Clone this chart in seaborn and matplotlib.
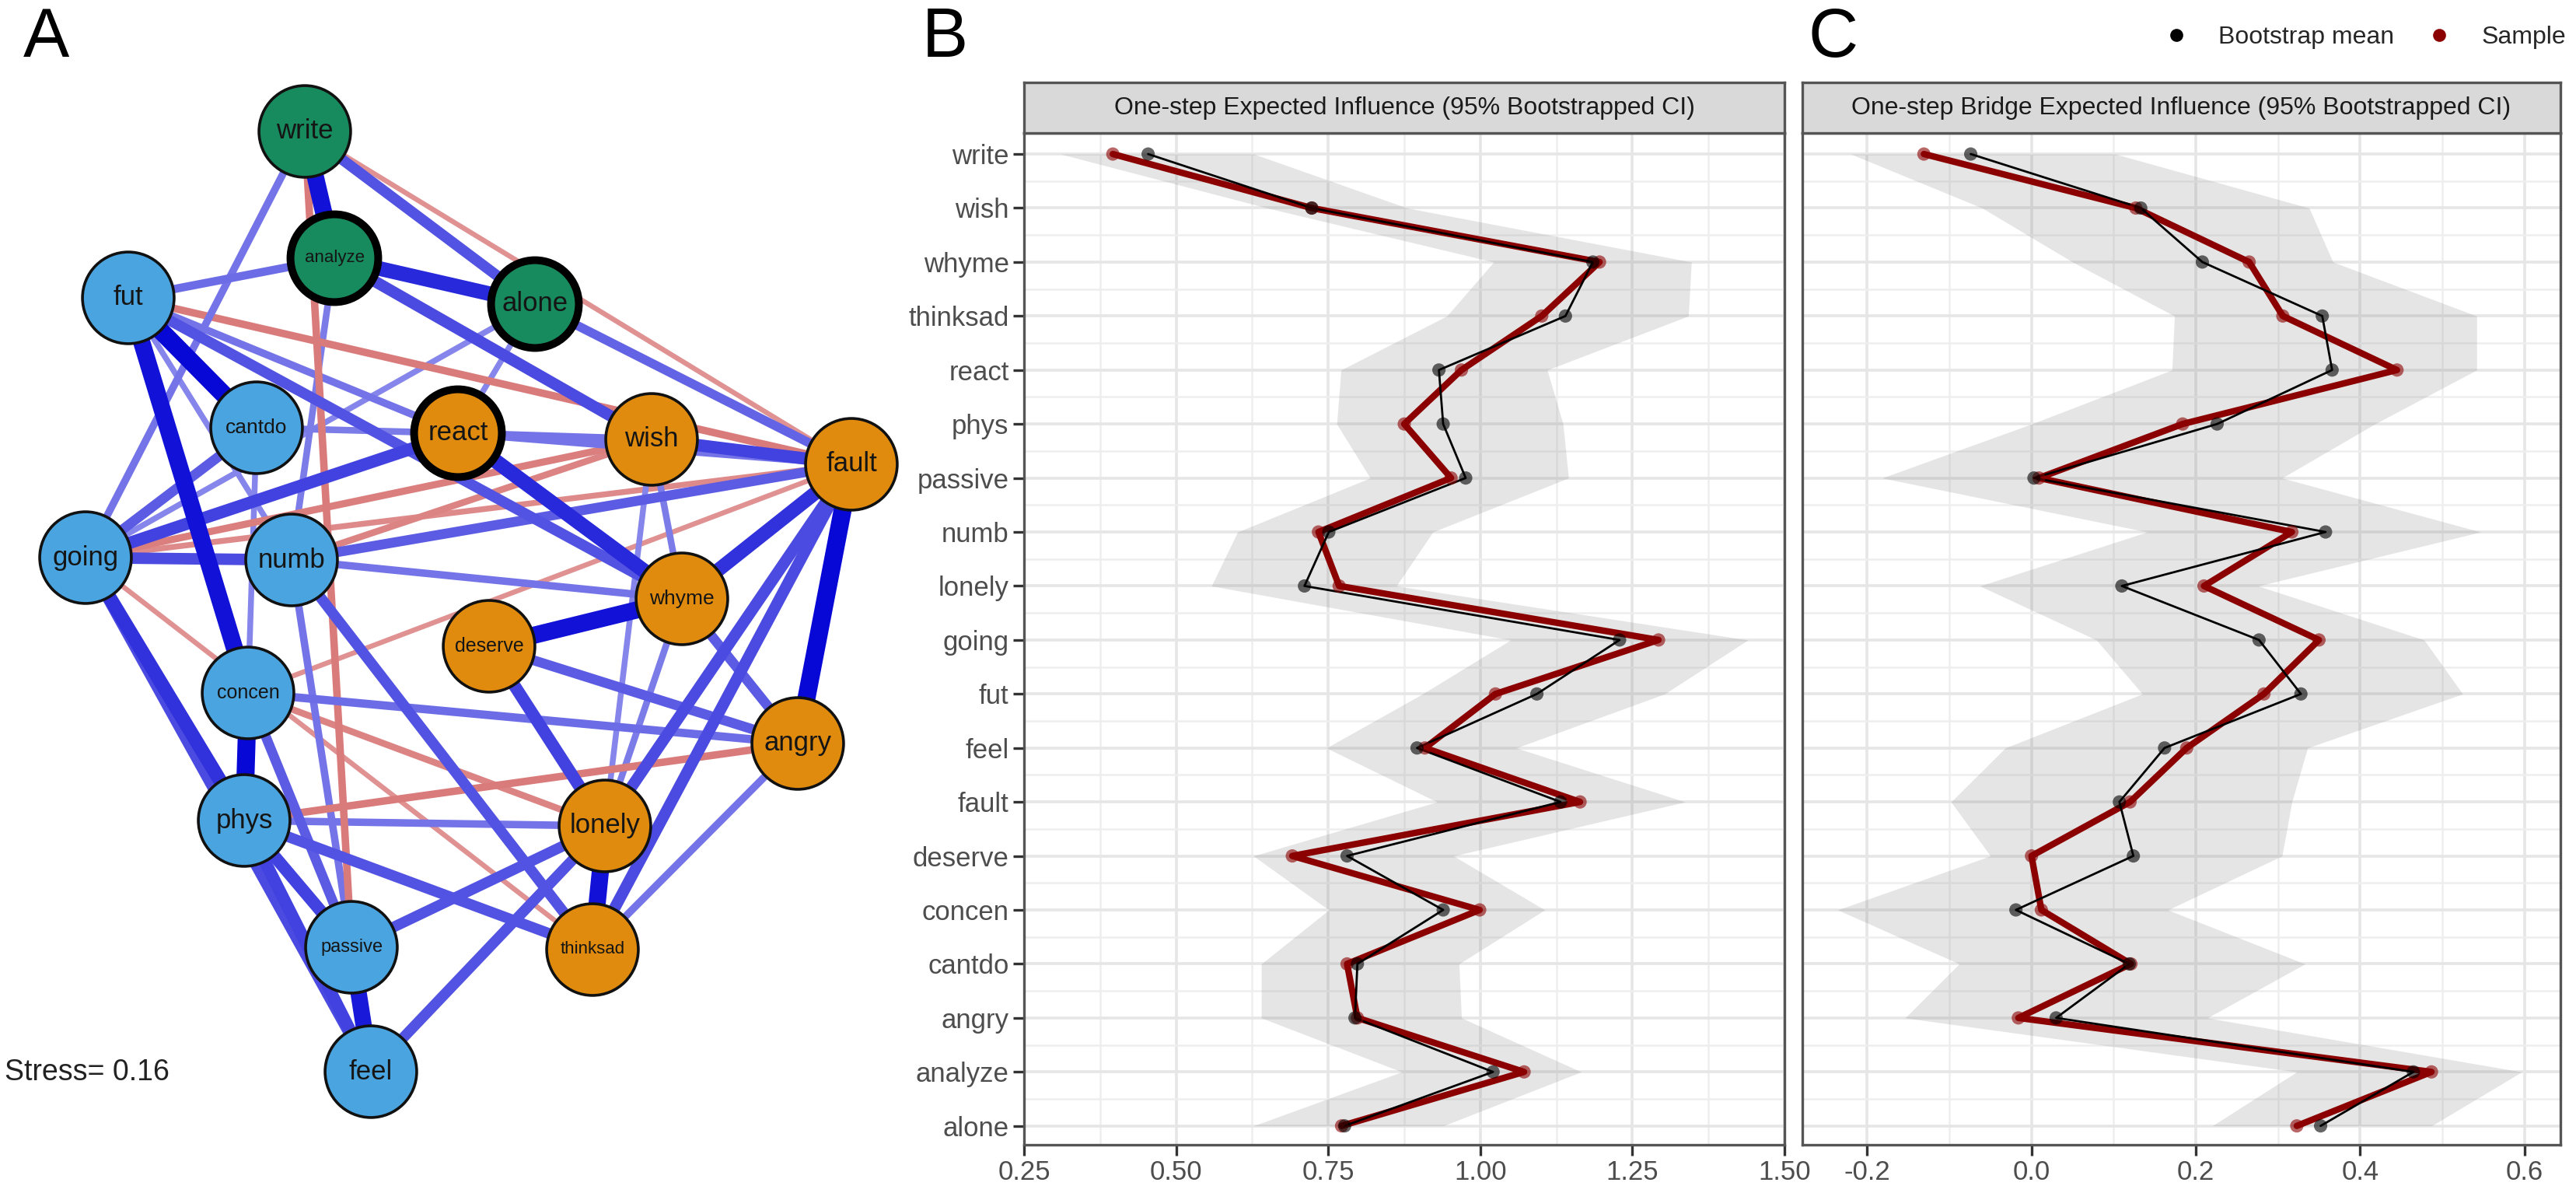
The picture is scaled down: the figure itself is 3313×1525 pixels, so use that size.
import numpy as np
import pandas as pd
import matplotlib
matplotlib.use('Agg')
import matplotlib.pyplot as plt
from matplotlib.lines import Line2D
from matplotlib.colors import to_rgb
import seaborn as sns

sns.set_theme(style='white')
plt.rcParams['font.family'] = ['Liberation Sans', 'DejaVu Sans']

# ---- centrality estimates (alphabetical, 'alone' sits at the bottom) ----
nodes = ['alone', 'analyze', 'angry', 'cantdo', 'concen', 'deserve', 'fault',
         'feel', 'fut', 'going', 'lonely', 'numb', 'passive', 'phys', 'react',
         'thinksad', 'whyme', 'wish', 'write']

ei_sample = [0.772, 1.072, 0.798, 0.781, 0.999, 0.691, 1.164, 0.909, 1.025, 1.293,
             0.768, 0.734, 0.952, 0.875, 0.969, 1.101, 1.196, 0.723, 0.396]
ei_boot = [0.777, 1.021, 0.794, 0.798, 0.939, 0.781, 1.132, 0.896, 1.093, 1.229,
           0.711, 0.751, 0.976, 0.939, 0.932, 1.140, 1.185, 0.723, 0.454]
ei_low = [0.627, 0.871, 0.640, 0.640, 0.751, 0.627, 0.929, 0.747, 0.905, 1.050,
          0.558, 0.601, 0.819, 0.764, 0.771, 0.945, 1.022, 0.650, 0.310]
ei_high = [0.939, 1.166, 0.969, 0.965, 1.106, 0.956, 1.337, 1.059, 1.303, 1.440,
           0.862, 0.922, 1.145, 1.136, 1.110, 1.342, 1.347, 0.880, 0.628]

bei_sample = [0.323, 0.487, -0.016, 0.121, 0.012, 0.000, 0.120, 0.189, 0.283, 0.350,
              0.210, 0.317, 0.009, 0.184, 0.445, 0.306, 0.265, 0.127, -0.131]
bei_boot = [0.352, 0.465, 0.030, 0.119, -0.019, 0.124, 0.107, 0.162, 0.328, 0.277,
            0.110, 0.358, 0.003, 0.226, 0.366, 0.354, 0.208, 0.133, -0.074]
bei_low = [0.220, 0.323, -0.154, -0.088, -0.236, -0.050, -0.098, -0.032, 0.135, 0.079,
           -0.063, 0.141, -0.182, 0.000, 0.171, 0.174, 0.050, -0.060, -0.220]
bei_high = [0.487, 0.597, 0.214, 0.333, 0.166, 0.305, 0.317, 0.336, 0.525, 0.478,
            0.276, 0.547, 0.305, 0.418, 0.542, 0.542, 0.367, 0.338, 0.102]

# ---- network layout (panel pixel coordinates) ----
net_nodes = ['write', 'analyze', 'alone', 'fut', 'cantdo', 'react', 'wish', 'fault',
             'going', 'numb', 'whyme', 'deserve', 'concen', 'angry', 'phys',
             'lonely', 'passive', 'thinksad', 'feel']
net_x = [392, 430, 688, 165, 330, 589, 838, 1095, 110, 375, 877, 629, 319, 1026,
         314, 778, 452, 762, 477]
net_y = [169, 332, 391, 383, 550, 557, 565, 597, 717, 720, 770, 831, 891, 956,
         1055, 1062, 1218, 1221, 1378]
net_group = ['green', 'green', 'green', 'blue', 'blue', 'orange', 'orange', 'orange',
             'blue', 'blue', 'orange', 'orange', 'blue', 'orange', 'blue',
             'orange', 'blue', 'orange', 'blue']
label_size = [12.5, 8, 12.5, 12.5, 9.5, 12.5, 12.5, 12.5, 12.5, 12.5, 9.5, 9,
              9, 12.5, 12.5, 12.5, 8.5, 8, 12.5]
bridge_nodes = ['analyze', 'alone', 'react']

edge_from = ['write', 'write', 'write', 'write', 'write', 'analyze', 'analyze', 'analyze',
             'analyze', 'alone', 'alone', 'alone', 'fut', 'fut', 'fut', 'fut', 'fut',
             'fut', 'going', 'going', 'going', 'going', 'going', 'going', 'going',
             'going', 'cantdo', 'cantdo', 'react', 'react', 'react', 'wish', 'wish',
             'wish', 'numb', 'numb', 'numb', 'numb', 'numb', 'fault', 'fault', 'fault',
             'fault', 'fault', 'whyme', 'whyme', 'whyme', 'deserve', 'deserve', 'concen',
             'concen', 'concen', 'concen', 'angry', 'angry', 'phys', 'phys', 'phys',
             'phys', 'passive', 'passive', 'feel', 'lonely']
edge_to = ['analyze', 'alone', 'going', 'fault', 'passive', 'alone', 'fut', 'wish',
           'numb', 'fault', 'react', 'going', 'cantdo', 'concen', 'react', 'whyme', 'numb',
           'fault', 'react', 'cantdo', 'numb', 'phys', 'feel', 'wish', 'fault',
           'thinksad', 'react', 'concen', 'wish', 'whyme', 'fault', 'fault', 'whyme',
           'lonely', 'wish', 'fault', 'whyme', 'passive', 'thinksad', 'whyme', 'angry',
           'lonely', 'thinksad', 'concen', 'deserve', 'angry', 'lonely', 'angry', 'lonely',
           'angry', 'phys', 'lonely', 'passive', 'phys', 'thinksad', 'lonely', 'thinksad',
           'passive', 'feel', 'feel', 'lonely', 'lonely', 'thinksad']
edge_w = [0.9, 0.5, 0.3, -0.15, -0.3, 0.75, 0.35, 0.55, 0.25, 0.4, 0.2, 0.2, 0.95,
          0.9, 0.3, 0.5, 0.2, -0.3, 0.6, 0.45, 0.55, 0.7, 0.55, -0.28, -0.2,
          -0.15, 0.25, 0.2, 0.3, 0.75, 0.3, 0.6, 0.25, 0.2, -0.25, 0.45, 0.3, 0.3,
          0.5, 0.7, 0.95, 0.55, 0.55, -0.15, 0.9, 0.45, 0.25, 0.45, 0.6, 0.35, 0.95,
          -0.25, 0.45, -0.3, 0.3, 0.3, 0.5, 0.6, 0.6, 0.85, 0.5, 0.5, 0.9]

group_colors = {'green': '#178B5E', 'blue': '#49A4E0', 'orange': '#E08B0D'}

W, H, DPI = 3313, 1525, 200
fig = plt.figure(figsize=(W / DPI, H / DPI), dpi=DPI)

# =============================================================================
# Panel A: network
# =============================================================================
axA = fig.add_axes([0, 0, 1250 / W, 1])
axA.set_xlim(0, 1250)
axA.set_ylim(1525, 0)
axA.axis('off')

pos = dict(zip(net_nodes, zip(net_x, net_y)))
white = np.array([1.0, 1.0, 1.0])
pos_col = np.array(to_rgb('#0000D5'))
neg_col = np.array(to_rgb('#C83C3C'))
order = np.argsort(np.abs(edge_w))
for i in order:
    w = edge_w[i]
    (x1, y1), (x2, y2) = pos[edge_from[i]], pos[edge_to[i]]
    if w > 0:
        a = 0.35 + 0.65 * abs(w)
        col = white * (1 - a) + pos_col * a
    else:
        a = 0.45 + 0.75 * abs(w)
        col = white * (1 - a) + neg_col * a
    axA.plot([x1, x2], [y1, y2], color=col, lw=1.2 + 7.5 * abs(w),
             solid_capstyle='butt', zorder=1)

net_df = pd.DataFrame({'node': net_nodes, 'x': net_x, 'y': net_y, 'group': net_group})
net_df['bridge'] = net_df['node'].isin(bridge_nodes)
sns.scatterplot(data=net_df[~net_df['bridge']], x='x', y='y', hue='group',
                palette=group_colors, s=1800, edgecolor='#111111', linewidth=1.3,
                legend=False, ax=axA, zorder=3)
sns.scatterplot(data=net_df[net_df['bridge']], x='x', y='y', hue='group',
                palette=group_colors, s=1650, edgecolor='black', linewidth=3.6,
                legend=False, ax=axA, zorder=3)
for name, x, y, fs in zip(net_nodes, net_x, net_y, label_size):
    axA.text(x, y, name, ha='center', va='center', fontsize=fs, color='#151515', zorder=4)
axA.set_xlabel('')
axA.set_ylabel('')

fig.text(6 / W, 1 - 1379 / H, 'Stress= 0.16', fontsize=13.5, color='#222222',
         ha='left', va='center')

# =============================================================================
# Panels B and C: centrality with bootstrapped CI
# =============================================================================
top_px, bot_px = 171, 1472
strip_top = 106


def centrality_panel(left_px, right_px, sample, boot, low, high, xlim, xticks,
                     xticklabels, xminor, title, show_y):
    ax = fig.add_axes([left_px / W, 1 - bot_px / H, (right_px - left_px) / W,
                       (bot_px - top_px) / H])
    df = pd.DataFrame({'node': nodes, 'pos': np.arange(len(nodes)),
                       'sample': sample, 'boot': boot, 'low': low, 'high': high})
    ax.fill_betweenx(df['pos'], df['low'], df['high'], color='grey', alpha=0.2,
                     lw=0, zorder=2)
    sns.lineplot(data=df, x='sample', y='pos', orient='y', color='#8B0000', lw=3.0,
                 errorbar=None, ax=ax, zorder=3)
    sns.lineplot(data=df, x='boot', y='pos', orient='y', color='black', lw=1.0,
                 errorbar=None, ax=ax, zorder=4)
    sns.scatterplot(data=df, x='sample', y='pos', color='#8B0000', s=38, alpha=0.6,
                    edgecolor='none', ax=ax, zorder=5)
    sns.scatterplot(data=df, x='boot', y='pos', color='black', s=38, alpha=0.6,
                    edgecolor='none', ax=ax, zorder=6)
    ax.set_xlim(*xlim)
    ax.set_ylim(-0.35, len(nodes) - 1 + 0.39)
    ax.set_xticks(xticks)
    ax.set_xticklabels(xticklabels)
    ax.set_xticks(xminor, minor=True)
    ax.set_yticks(np.arange(len(nodes)))
    ax.set_yticks(np.arange(len(nodes) - 1) + 0.5, minor=True)
    if show_y:
        ax.set_yticklabels(nodes)
        ax.tick_params(axis='y', which='major', length=5, width=1.2, color='#333333',
                       labelsize=12.5, labelcolor='#4D4D4D', pad=2, left=True)
    else:
        ax.set_yticklabels([])
        ax.tick_params(axis='y', which='major', length=0)
    ax.tick_params(axis='x', which='major', length=5, width=1.2, color='#333333',
                   labelsize=12.5, labelcolor='#4D4D4D', pad=2, bottom=True)
    ax.tick_params(which='minor', length=0)
    ax.grid(which='major', color='#E6E6E6', lw=1.3, zorder=0)
    ax.grid(which='minor', color='#EEEEEE', lw=0.9, zorder=0)
    ax.set_axisbelow(True)
    ax.set_xlabel('')
    ax.set_ylabel('')
    for sp in ax.spines.values():
        sp.set_color('#555555')
        sp.set_linewidth(1.2)

    strip = fig.add_axes([left_px / W, 1 - top_px / H, (right_px - left_px) / W,
                          (top_px - strip_top) / H])
    strip.set_facecolor('#D9D9D9')
    strip.set_xticks([])
    strip.set_yticks([])
    for sp in strip.spines.values():
        sp.set_color('#555555')
        sp.set_linewidth(1.2)
    strip.text(0.5, 0.5, title, ha='center', va='center', fontsize=11.5,
               color='#1A1A1A', transform=strip.transAxes)
    return ax


centrality_panel(1317, 2295, ei_sample, ei_boot, ei_low, ei_high, (0.25, 1.5),
                 [0.25, 0.5, 0.75, 1.0, 1.25, 1.5],
                 ['0.25', '0.50', '0.75', '1.00', '1.25', '1.50'],
                 [0.375, 0.625, 0.875, 1.125, 1.375],
                 'One-step Expected Influence (95% Bootstrapped CI)', True)
centrality_panel(2318, 3293, bei_sample, bei_boot, bei_low, bei_high, (-0.279, 0.644),
                 [-0.2, 0.0, 0.2, 0.4, 0.6],
                 ['-0.2', '0.0', '0.2', '0.4', '0.6'],
                 [-0.1, 0.1, 0.3, 0.5],
                 'One-step Bridge Expected Influence (95% Bootstrapped CI)', False)

# panel letters
for letter, xpx in [('A', 30), ('B', 1186), ('C', 2325)]:
    fig.text(xpx / W, 1 - 50 / H, letter, fontsize=32, ha='left', va='center',
             color='black')

# legend
handles = [Line2D([], [], marker='o', ls='', color='black', markersize=5),
           Line2D([], [], marker='o', ls='', color='#8B0000', markersize=5)]
fig.legend(handles, ['Bootstrap mean', 'Sample'], loc='center right',
           bbox_to_anchor=(3300 / W, 1 - 48 / H), ncol=2, frameon=False,
           fontsize=11.5, handlelength=1, handletextpad=1.2, columnspacing=1.3,
           borderaxespad=0, borderpad=0)

fig.savefig('out.png', dpi=DPI)
